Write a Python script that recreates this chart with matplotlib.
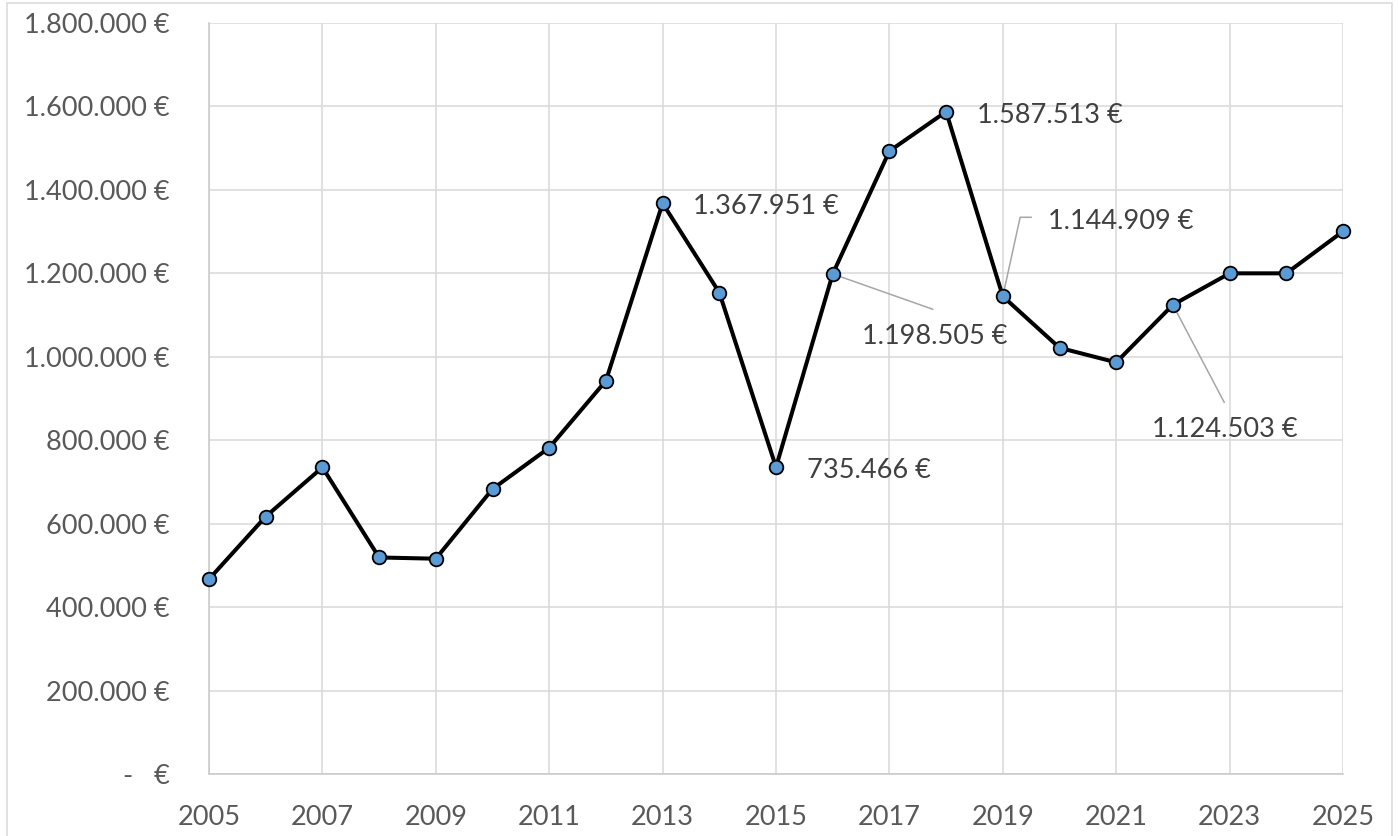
import matplotlib.pyplot as plt
import matplotlib.transforms as mtransforms
from matplotlib.lines import Line2D
from matplotlib.patches import Rectangle

years = list(range(2005, 2026))
values = [467000, 617000, 735000, 519000, 516000, 683000, 782000, 942500,
          1367951, 1154000, 735466, 1198505, 1493000, 1587513, 1144909,
          1021500, 986600, 1124503, 1200000, 1200000, 1300600]

# years with a data label, text offset (pt, baseline) and leader path (pt)
labelled = {
    2013: ((21.8, -7.7), None),
    2015: ((22.1, -7.9), None),
    2016: ((20.9, -50.4), [(0, 0), (72, -25.4)]),
    2018: ((22.3, -8.4), None),
    2019: ((32.4, 48.5), [(0, 0), (12.5, 56.9), (20.4, 56.9)]),
    2022: ((-14.7, -95.3), [(0, 0), (36.9, -70.1)]),
}

plt.rcParams['font.family'] = ['Lato', 'DejaVu Sans']

fig = plt.figure(figsize=(13.99, 8.36), dpi=100)
ax = fig.add_axes([209 / 1399, 1 - 774 / 836, (1343 - 209) / 1399, (774 - 23) / 836])

grid_c = '#D9D9D9'
ax.grid(True, color=grid_c, linewidth=1.1)
ax.set_axisbelow(True)
for s in ['top', 'right']:
    ax.spines[s].set_visible(False)
for s in ['left', 'bottom']:
    ax.spines[s].set_color('#C8C8C8')
    ax.spines[s].set_linewidth(1.1)

ax.plot(years, values, color='black', linewidth=2.9, marker='o', markersize=9.8,
        markerfacecolor='#5B9BD5', markeredgecolor='black', markeredgewidth=1.3,
        clip_on=False, zorder=3)

ax.set_xlim(2005, 2025)
ax.set_ylim(0, 1800000)
ax.set_xticks(range(2005, 2026, 2))
ax.set_yticks(range(0, 1800001, 200000))


def euro(v, pos=None):
    if v == 0:
        return '-   €'
    return f'{v:,.0f} €'.replace(',', '.')


ax.yaxis.set_major_formatter(plt.FuncFormatter(euro))
ax.tick_params(axis='both', length=0, labelsize=19.5, labelcolor='#595959')
ax.tick_params(axis='y', pad=28)
ax.tick_params(axis='x', pad=22)

for yr, (off, leader) in labelled.items():
    v = values[years.index(yr)]
    ax.annotate(euro(v), xy=(yr, v), xytext=off, textcoords='offset points',
                ha='left', va='baseline', fontsize=19.5, color='#404040', zorder=4)
    if leader:
        t = (mtransforms.Affine2D().scale(1 / 72) + fig.dpi_scale_trans
             + mtransforms.ScaledTranslation(yr, v, ax.transData))
        ax.add_line(Line2D([p[0] for p in leader], [p[1] for p in leader],
                           transform=t, color='#A6A6A6', linewidth=1.1,
                           clip_on=False, zorder=2))

fig.patches.append(Rectangle((7 / 1399, -0.05), (1392 - 7) / 1399, 1.05 - 3 / 836,
                             transform=fig.transFigure, fill=False,
                             edgecolor=grid_c, linewidth=1.1))

fig.savefig('out.png', dpi=100)
